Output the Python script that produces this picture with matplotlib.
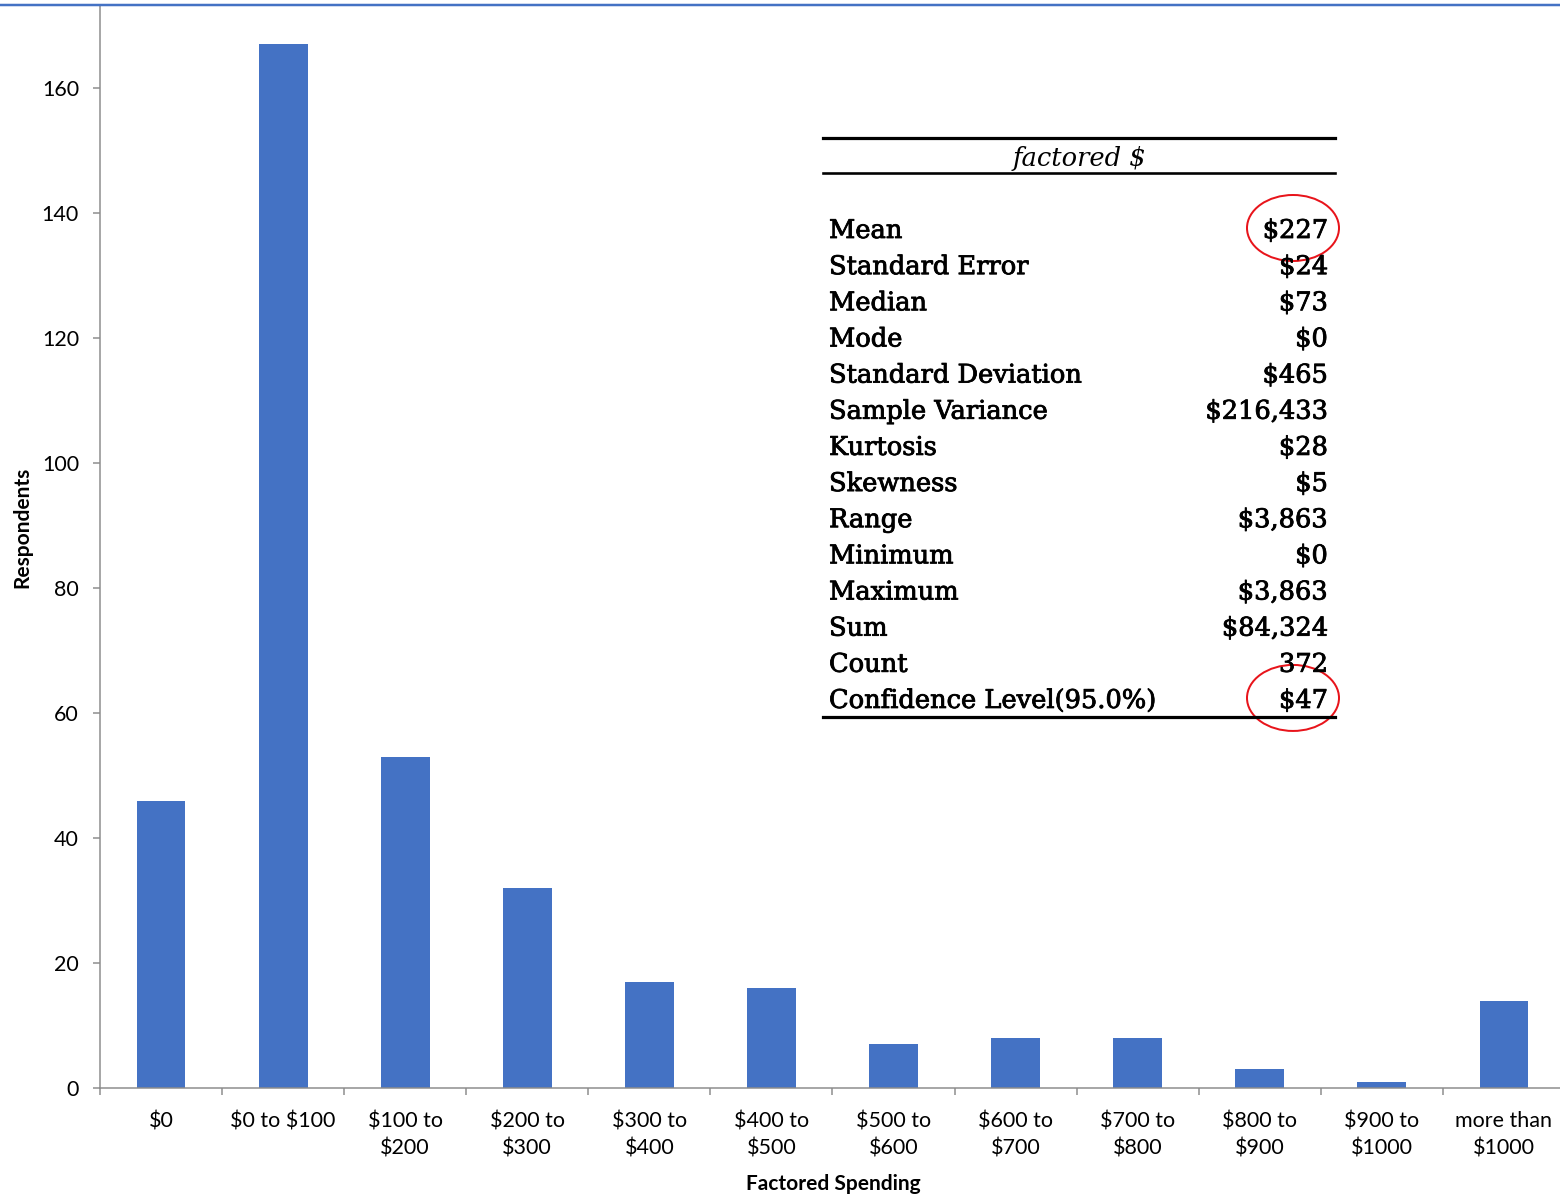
import matplotlib.pyplot as plt
import matplotlib.patheffects as pe
from matplotlib.patches import Ellipse
from matplotlib.lines import Line2D
import numpy as np

# Histogram of factored spending
categories = ["\\$0", "\\$0 to \\$100", "\\$100 to\n\\$200", "\\$200 to\n\\$300", "\\$300 to\n\\$400",
              "\\$400 to\n\\$500", "\\$500 to\n\\$600", "\\$600 to\n\\$700", "\\$700 to\n\\$800",
              "\\$800 to\n\\$900", "\\$900 to\n\\$1000", "more than\n\\$1000"]
respondents = [46, 167, 53, 32, 17, 16, 7, 8, 8, 3, 1, 14]

# Descriptive statistics table
stat_names = ["Mean", "Standard Error", "Median", "Mode", "Standard Deviation",
              "Sample Variance", "Kurtosis", "Skewness", "Range", "Minimum",
              "Maximum", "Sum", "Count", "Confidence Level(95.0%)"]
stat_values = ["\\$227", "\\$24", "\\$73", "\\$0", "\\$465", "\\$216,433", "\\$28", "\\$5",
               "\\$3,863", "\\$0", "\\$3,863", "\\$84,324", "372", "\\$47"]
circled = ["Mean", "Confidence Level(95.0%)"]

W, H = 1560, 1195
BLUE = "#4472C4"
GRAY = "#8C8C8C"
PX = 0.72  # points per pixel at dpi 100

fig = plt.figure(figsize=(W / 100, H / 100), dpi=100)

# chart area in pixels: left 100, right 1565, top 5, bottom 1088
ax = fig.add_axes([100 / W, (H - 1088) / H, (1565 - 100) / W, (1088 - 5) / H])
x = np.arange(len(categories))
ax.bar(x, respondents, width=0.4, color=BLUE, zorder=2)
ax.set_xlim(-0.5, len(categories) - 0.5)
ax.set_ylim(0, (1088 - 5) / 6.25)

for side in ["top", "right"]:
    ax.spines[side].set_visible(False)
for side in ["left", "bottom"]:
    ax.spines[side].set_color(GRAY)
    ax.spines[side].set_linewidth(1.5 * PX)

tick_font = dict(family="Lato", size=15.5)
ax.set_yticks(np.arange(0, 161, 20))
ax.set_yticklabels([str(v) for v in range(0, 161, 20)], fontdict=tick_font)
ax.tick_params(axis="y", length=7 * PX, width=1.5 * PX, color=GRAY, pad=14 * PX)

ax.set_xticks(x)
ax.set_xticklabels(categories, fontdict=tick_font, linespacing=1.45)
ax.tick_params(axis="x", which="major", length=0, pad=23 * PX)
ax.set_xticks(np.arange(-0.5, len(categories) - 0.4, 1.0), minor=True)
ax.tick_params(axis="x", which="minor", length=7 * PX, width=1.5 * PX, color=GRAY)

ax.set_xlabel("Factored Spending", family="Lato", weight="bold", size=15, va="center")
ax.xaxis.set_label_coords((833 - 100) / 1465, (1088 - 1184) / 1083)
ax.set_ylabel("Respondents", family="Lato", weight="bold", size=15, va="center")
ax.yaxis.set_label_coords((22 - 100) / 1465, (1088 - 527) / 1083)

# overlay in pixel coordinates for the stats table
ov = fig.add_axes([0, 0, 1, 1], zorder=5)
ov.set_xlim(0, W)
ov.set_ylim(H, 0)
ov.axis("off")
ov.patch.set_alpha(0)

ov.add_line(Line2D([0, W], [4.5, 4.5], color=BLUE, lw=2.5 * PX))

x0, x1 = 823, 1335
ov.add_line(Line2D([x0, x1], [138, 138], color="black", lw=3.2 * PX))
ov.add_line(Line2D([x0, x1], [173, 173], color="black", lw=2.6 * PX))
ov.add_line(Line2D([x0, x1], [717, 717], color="black", lw=3.2 * PX))

heavy = [pe.withStroke(linewidth=0.6, foreground="black")]
ov.text((x0 + x1) / 2, 166, "factored \\$", family="DejaVu Serif", style="italic",
        size=18.5, ha="center", va="baseline")

serif = dict(family="DejaVu Serif", size=18.5, va="baseline", path_effects=heavy)
row0, step = 238, 36.15
for i, (name, val) in enumerate(zip(stat_names, stat_values)):
    yb = row0 + i * step
    ov.text(829, yb, name, ha="left", **serif)
    ov.text(1328, yb, val, ha="right", **serif)
    if name in circled:
        ov.add_patch(Ellipse((1293, yb - 10), 92, 66, fill=False,
                             edgecolor="#E8141B", lw=2 * PX))

fig.savefig("out.png", dpi=100)
